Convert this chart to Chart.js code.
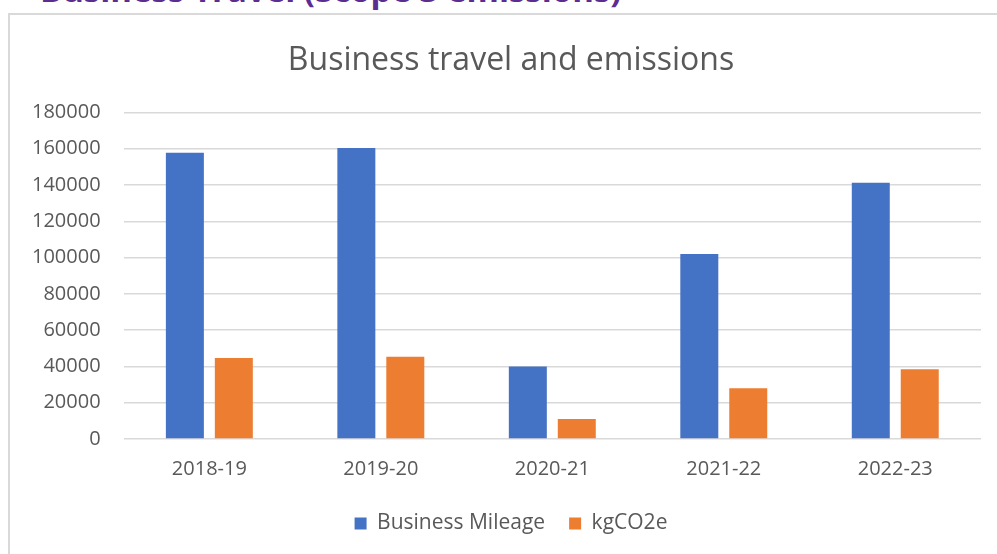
<!DOCTYPE html>
<html>
<head>
<meta charset="utf-8">
<script src="https://cdn.jsdelivr.net/npm/chart.js@4/dist/chart.umd.min.js"></script>
<style>
  html, body { margin: 0; padding: 0; background: #ffffff; overflow: hidden; }
  body { width: 997px; height: 554px; position: relative; }
  #heading { position: absolute; left: 40px; top: -27px; font-family: "Open Sans", sans-serif; font-weight: bold; font-size: 33px; line-height: 33px; color: #5c2d91; white-space: nowrap; }
  #frame { position: absolute; left: 8px; top: 13px; width: 1000px; height: 560px; border: 2px solid #d9d9d9; box-sizing: border-box; }
  #wrap { position: absolute; left: 0; top: 0; width: 997px; height: 554px; overflow: hidden; }
</style>
</head>
<body>
<div id="heading">Business Travel (Scope 3 emissions)</div>
<div id="frame"></div>
<div id="wrap"><canvas id="c" width="1030" height="554"></canvas></div>
<script>
const chartTitle = "Business travel and emissions";
const categories = ["2018-19", "2019-20", "2020-21", "2021-22", "2022-23"];
const seriesNames = ["Business Mileage", "kgCO2e"];
const businessMileage = [157800, 160400, 40000, 102000, 141200];
const kgCO2e = [44600, 45300, 11000, 28000, 38400];
const yTicks = [0, 20000, 40000, 60000, 80000, 100000, 120000, 140000, 160000, 180000];

const textColor = "#595959";
const fontFamily = "'Open Sans', sans-serif";

new Chart(document.getElementById("c"), {
  type: "bar",
  data: {
    labels: categories,
    datasets: [
      { label: seriesNames[0], data: businessMileage, backgroundColor: "#4472C4", categoryPercentage: 0.571, barPercentage: 0.776 },
      { label: seriesNames[1], data: kgCO2e, backgroundColor: "#ED7D31", categoryPercentage: 0.571, barPercentage: 0.776 }
    ]
  },
  options: {
    responsive: false,
    animation: false,
    layout: { padding: { left: 9, right: 17, top: 42, bottom: 10 } },
    plugins: {
      title: {
        display: true,
        text: chartTitle,
        color: textColor,
        font: { family: fontFamily, size: 32, weight: "normal" },
        padding: { top: 0, bottom: 32 }
      },
      legend: {
        position: "bottom",
        labels: {
          color: textColor,
          font: { family: fontFamily, size: 21 },
          boxWidth: 12,
          boxHeight: 12,
          padding: 24
        }
      },
      tooltip: { enabled: false }
    },
    scales: {
      x: {
        grid: { display: false },
        border: { display: false },
        ticks: { color: textColor, font: { family: fontFamily, size: 20 }, padding: 10 },
        afterFit: (axis) => { axis.height = axis.height - 2; }
      },
      y: {
        min: yTicks[0],
        max: yTicks[yTicks.length - 1],
        afterBuildTicks: (axis) => { axis.ticks = yTicks.map(v => ({ value: v })); },
        grid: { color: "#d9d9d9", lineWidth: 1.5, drawTicks: false },
        border: { display: false },
        ticks: { color: textColor, font: { family: fontFamily, size: 20 }, padding: 23, callback: (v) => String(v) }
      },
      ySpacer: {
        position: "right",
        grid: { display: false },
        border: { display: false },
        ticks: { display: false },
        afterFit: (axis) => { axis.width = 32; }
      }
    }
  }
});
</script>
</body>
</html>
